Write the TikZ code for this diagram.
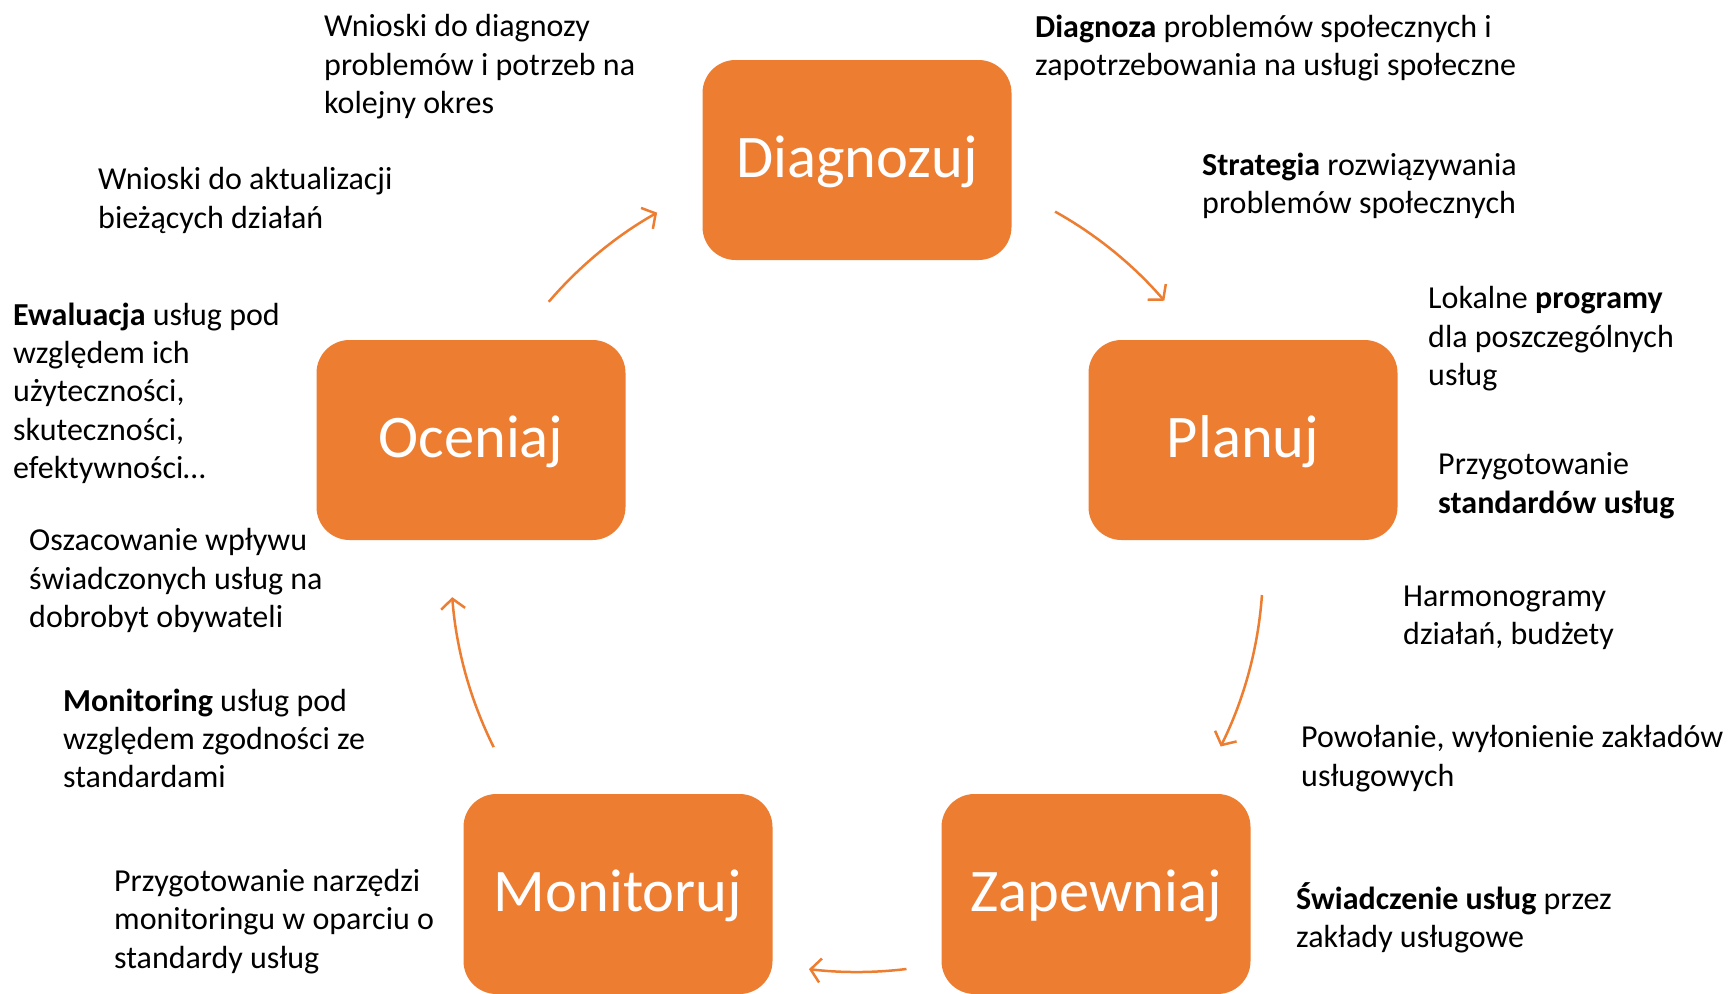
\documentclass[tikz,border=0pt]{standalone}
\usepackage{fontspec}
\setmainfont{Carlito}
\usetikzlibrary{arrows.meta,calc}
\definecolor{accent}{HTML}{ED7D31}
\begin{document}
\begin{tikzpicture}[x=1pt,y=-1pt,
  stage/.style={fill=accent, rounded corners=33pt, minimum width=309pt, minimum height=200pt, text=white, font=\fontsize{60.5}{72}\selectfont, text height=47pt, text depth=12pt, inner sep=0pt},
  note/.style={anchor=north west, align=left, inner sep=0pt, font=\fontsize{32}{38.3}\selectfont},
  cyc/.style={draw=accent, line width=2.5pt, -{Straight Barb[length=10pt,width=24pt]}}]
\useasboundingbox (0,0) rectangle (1729,993);
\coordinate (c) at (857,566);
% stages
\node[stage] (d) at (857,160) {Diagnozuj};
\node[stage] (p) at (1243,440) {Planuj};
\node[stage] (z) at (1096,894) {Zapewniaj};
\node[stage] (m) at (618,894) {Monitoruj};
\node[stage] (o) at (471,440) {Oceniaj};
% arrow end points on the cycle circle
\coordinate (a1s) at ($(c)+(-60.8:406)$);
\coordinate (a2s) at ($(c)+(4.1:406)$);
\coordinate (a3s) at ($(c)+(83:406)$);
\coordinate (a4s) at ($(c)+(153.5:406)$);
\coordinate (a5s) at ($(c)+(-139.4:406)$);
\draw[cyc] (a1s) arc[start angle=-60.8, end angle=-40.8, radius=406];
\draw[cyc] (a2s) arc[start angle=4.1, end angle=26.4, radius=406];
\draw[cyc] (a3s) arc[start angle=83, end angle=96.8, radius=406];
\draw[cyc] (a4s) arc[start angle=153.5, end angle=175.6, radius=406];
\draw[cyc] (a5s) arc[start angle=-139.4, end angle=-119.5, radius=406];
% notes
\node[note] (t1) at (324,14.5) {Wnioski do diagnozy\\problemów i potrzeb na\\kolejny okres};
\node[note] (t2) at (1035,14.5) {\textbf{Diagnoza} problemów społecznych i\\zapotrzebowania na usługi społeczne};
\node[note] (t3) at (1202,152.5) {\textbf{Strategia} rozwiązywania\\problemów społecznych};
\node[note] (t4) at (1428,286.5) {Lokalne \textbf{programy}\\dla poszczególnych\\usług};
\node[note] (t5) at (1438,452.5) {Przygotowanie\\\textbf{standardów usług}};
\node[note] (t6) at (1403,585.5) {Harmonogramy\\działań, budżety};
\node[note] (t7) at (1301,725.5) {Powołanie, wyłonienie zakładów\\usługowych};
\node[note] (t8) at (1296,882) {\textbf{Świadczenie usług} przez\\zakłady usługowe};
\node[note] (t9) at (114,869) {Przygotowanie narzędzi\\monitoringu w oparciu o\\standardy usług};
\node[note] (t10) at (63,688.5) {\textbf{Monitoring} usług pod\\względem zgodności ze\\standardami};
\node[note] (t11) at (29,528.5) {Oszacowanie wpływu\\świadczonych usług na\\dobrobyt obywateli};
\node[note] (t12) at (13,302.5) {\textbf{Ewaluacja} usług pod\\względem ich\\użyteczności,\\skuteczności,\\efektywności…};
\node[note] (t13) at (98,167.5) {Wnioski do aktualizacji\\bieżących działań};
\end{tikzpicture}
\end{document}
